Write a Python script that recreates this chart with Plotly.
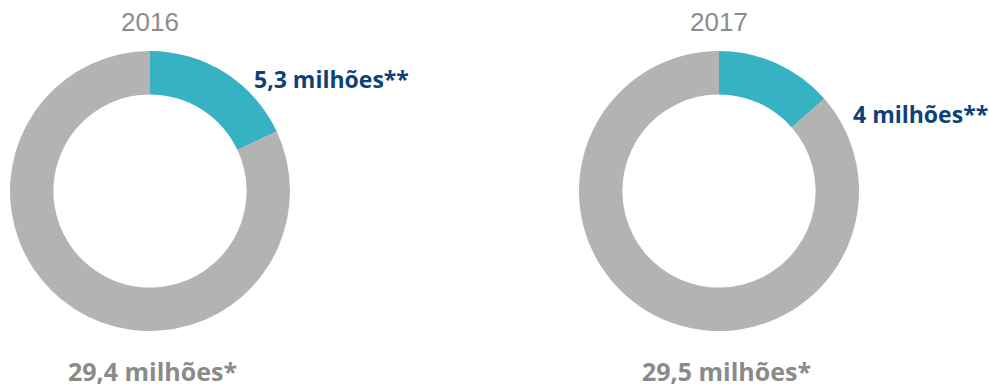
import plotly.graph_objects as go

years = ["2016", "2017"]
totals = [29.4, 29.5]
parts = [5.3, 4.0]
total_labels = ["29,4 milhões*", "29,5 milhões*"]
part_labels = ["5,3 milhões**", "4 milhões**"]
slice_names = ["Destaque", "Restante"]

W, H = 989, 389
TEAL = "#36b2c3"
GREY = "#b3b3b3"
NAVY = "#0c4279"
LABEL_GREY = "#8a8a8a"

# donut boxes in pixels (left, top, size)
boxes = [(10, 51, 280), (579, 51, 280)]
part_pos = [(252, 79), (851, 114)]
total_x = [152, 726]

fig = go.Figure()
for i, yr in enumerate(years):
    l, t, s = boxes[i]
    fig.add_trace(go.Pie(
        labels=slice_names,
        values=[parts[i], totals[i] - parts[i]],
        hole=0.69,
        sort=False,
        direction="clockwise",
        rotation=0,
        textinfo="none",
        hoverinfo="label+value",
        marker=dict(colors=[TEAL, GREY], line=dict(width=0)),
        domain=dict(x=[l / W, (l + s) / W], y=[1 - (t + s) / H, 1 - t / H]),
        showlegend=False,
    ))
    cx = l + s / 2
    fig.add_annotation(x=cx / W, y=1 - 22 / H, xref="paper", yref="paper",
                       text=yr, showarrow=False, xanchor="center", yanchor="middle",
                       font=dict(family="Liberation Sans", size=26, color="#8c8c8c"))
    px, py = part_pos[i]
    fig.add_annotation(x=px / W, y=1 - py / H, xref="paper", yref="paper",
                       text="<b>" + part_labels[i] + "</b>", showarrow=False,
                       xanchor="left", yanchor="middle",
                       font=dict(family="Open Sans", size=23, color=NAVY))
    fig.add_annotation(x=total_x[i] / W, y=0, xref="paper", yref="paper",
                       text="<b>" + total_labels[i] + "</b>", showarrow=False,
                       xanchor="center", yanchor="bottom", borderpad=0,
                       font=dict(family="Open Sans", size=25, color=LABEL_GREY))

fig.update_layout(width=W, height=H, margin=dict(l=0, r=0, t=0, b=0),
                  paper_bgcolor="white", plot_bgcolor="white")
fig.write_html("out.html")
